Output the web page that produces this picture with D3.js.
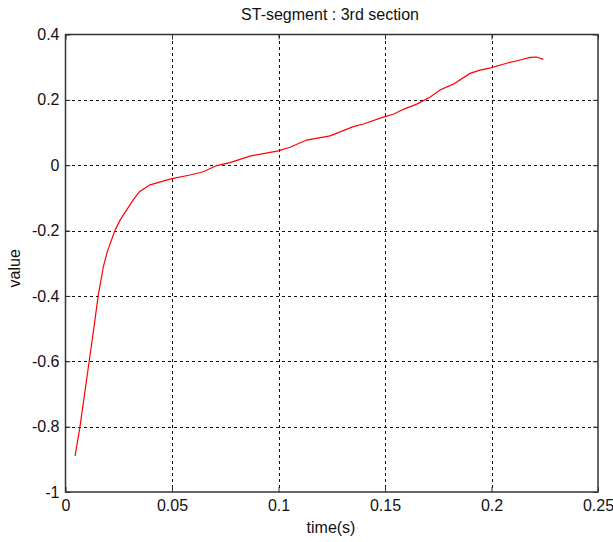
<!DOCTYPE html>
<html>
<head>
<meta charset="utf-8">
<script src="https://cdn.jsdelivr.net/npm/d3@7"></script>
<style>
  html, body { margin: 0; padding: 0; background: #fff; }
  svg { display: block; font-family: "Liberation Sans", Arial, sans-serif; }
</style>
</head>
<body>
<svg id="chart" width="613" height="542"></svg>
<script>
// ST-segment samples (time in seconds, amplitude)
const timeValues = [0.0045, 0.0068, 0.0112, 0.0134, 0.0154, 0.0178, 0.0196, 0.0232, 0.0256, 0.0318,
  0.0347, 0.0397, 0.0495, 0.0585, 0.0647, 0.0710, 0.0772, 0.0866, 0.0999, 0.1054,
  0.1132, 0.1242, 0.1351, 0.1398, 0.1492, 0.1539, 0.1586, 0.1649, 0.1711, 0.1758,
  0.1821, 0.1899, 0.1946, 0.1996, 0.2071, 0.2134, 0.2181, 0.2212, 0.2243];
const signalValues = [-0.890, -0.800, -0.596, -0.494, -0.397, -0.310, -0.265, -0.200, -0.168, -0.106,
  -0.081, -0.060, -0.042, -0.030, -0.020, -0.001, 0.008, 0.028, 0.044, 0.055,
  0.077, 0.090, 0.118, 0.126, 0.147, 0.156, 0.171, 0.187, 0.208, 0.230,
  0.248, 0.281, 0.291, 0.298, 0.312, 0.322, 0.330, 0.331, 0.324];
const xTicks = [0, 0.05, 0.1, 0.15, 0.2, 0.25];
const xTickLabels = ["0", "0.05", "0.1", "0.15", "0.2", "0.25"];
const yTicks = [-1, -0.8, -0.6, -0.4, -0.2, 0, 0.2, 0.4];
const yTickLabels = ["-1", "-0.8", "-0.6", "-0.4", "-0.2", "0", "0.2", "0.4"];

const svg = d3.select("#chart");
const plotL = 65.5, plotR = 598, plotT = 34.5, plotB = 492;

const x = d3.scaleLinear().domain([0, 0.25]).range([plotL, plotR]);
const y = d3.scaleLinear().domain([-1, 0.4]).range([plotB, plotT]);

// grid
const grid = svg.append("g").attr("stroke", "#111").attr("stroke-width", 1)
  .attr("stroke-dasharray", "3,3").attr("shape-rendering", "crispEdges");
grid.selectAll("line.gx").data(xTicks.slice(1, -1)).join("line")
  .attr("x1", d => Math.round(x(d)) + 0.5).attr("x2", d => Math.round(x(d)) + 0.5)
  .attr("y1", plotT).attr("y2", plotB);
grid.selectAll("line.gy").data(yTicks.slice(1, -1)).join("line")
  .attr("y1", d => Math.round(y(d)) + 0.5).attr("y2", d => Math.round(y(d)) + 0.5)
  .attr("x1", plotL).attr("x2", plotR);

// axes with inward ticks
const xAxis = d3.axisBottom(x).tickValues(xTicks).tickSize(-5).tickPadding(8)
  .tickFormat((d, i) => xTickLabels[i]);
const yAxis = d3.axisLeft(y).tickValues(yTicks).tickSize(-5).tickPadding(6)
  .tickFormat((d, i) => yTickLabels[i]);

svg.append("g").attr("transform", `translate(0,${plotB})`).call(xAxis);
svg.append("g").attr("transform", `translate(${plotL},0)`).call(yAxis);
svg.append("g").attr("transform", `translate(0,${plotT})`)
  .call(d3.axisTop(x).tickValues(xTicks).tickSize(-5).tickFormat(""));
svg.append("g").attr("transform", `translate(${plotR},0)`)
  .call(d3.axisRight(y).tickValues(yTicks).tickSize(-5).tickFormat(""));

svg.selectAll(".domain").remove();
svg.selectAll(".tick line").attr("stroke", "#333");
svg.selectAll(".tick text").attr("fill", "#111").style("font-size", "16px")
  .style("font-family", "'Liberation Sans', Arial, sans-serif");

// frame
svg.append("rect").attr("x", plotL).attr("y", plotT)
  .attr("width", plotR - plotL).attr("height", plotB - plotT)
  .attr("fill", "none").attr("stroke", "#333").attr("stroke-width", 1.5);

// signal
const line = d3.line().x((d, i) => x(timeValues[i])).y(d => y(d)).curve(d3.curveLinear);
svg.append("path").datum(signalValues)
  .attr("d", line).attr("fill", "none").attr("stroke", "#ff0000").attr("stroke-width", 1.2);

// labels
svg.append("text").attr("x", 330).attr("y", 20).attr("text-anchor", "middle")
  .style("font-size", "16px").attr("fill", "#111").text("ST-segment : 3rd section");
svg.append("text").attr("x", 331).attr("y", 533).attr("text-anchor", "middle")
  .style("font-size", "16px").attr("fill", "#111").text("time(s)");
svg.append("text").attr("transform", `translate(20,${(plotT + plotB) / 2 + 5}) rotate(-90)`)
  .attr("text-anchor", "middle").style("font-size", "16px").attr("fill", "#111").text("value");
</script>
</body>
</html>
